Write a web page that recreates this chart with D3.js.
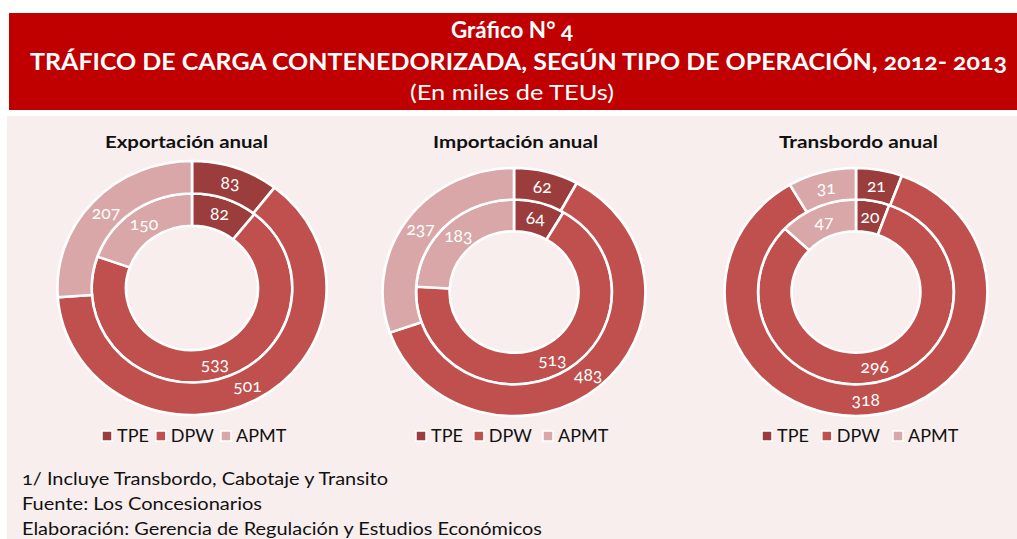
<!DOCTYPE html>
<html>
<head>
<meta charset="utf-8">
<script src="https://cdn.jsdelivr.net/npm/d3@7"></script>
<style>
  body { margin: 0; background: #fff; }
  svg text { font-family: Lato, "Open Sans", sans-serif; font-variant-numeric: oldstyle-nums; }
</style>
</head>
<body>
<svg id="chart"></svg>
<script>
// datos (miles de TEUs)
var operaciones = ["Exportación anual", "Importación anual", "Transbordo anual"];
var concesionarios = ["TPE", "DPW", "APMT"];
var anillo2012 = [[82, 533, 150], [64, 513, 183], [20, 296, 47]];   // anillo interior
var anillo2013 = [[83, 501, 207], [62, 483, 237], [21, 318, 31]];   // anillo exterior
var notas = [
  "1/ Incluye Transbordo, Cabotaje y Transito",
  "Fuente: Los Concesionarios",
  "Elaboración: Gerencia de Regulación y Estudios Económicos"
];

var width = 1017, height = 539;
var svg = d3.select("#chart").attr("width", width).attr("height", height);

var color = d3.scaleOrdinal()
  .domain(concesionarios)
  .range(["#9c3d3d", "#c0504d", "#d9a7a7"]);

// title bar
svg.append("rect").attr("x", 9).attr("y", 13).attr("width", width - 9).attr("height", 97)
  .attr("fill", "#c00000");
svg.append("rect").attr("x", 7).attr("y", 116).attr("width", width - 7).attr("height", height - 116)
  .attr("fill", "#f9eeee");

var titles = [
  {t: "Gráfico N° 4", y: 38, size: 22, w: "bold", len: 122},
  {t: "TRÁFICO DE CARGA CONTENEDORIZADA, SEGÚN TIPO DE OPERACIÓN, 2012- 2013", y: 70, size: 22, w: "bold", len: 977},
  {t: "(En miles de TEUs)", y: 100, size: 21, w: "normal", len: 204}
];
svg.selectAll(".title").data(titles).enter().append("text")
  .attr("class", "title")
  .attr("x", d => d.len === 977 ? 30 : 512 - d.len / 2)
  .attr("y", d => d.y)
  .attr("fill", "#fff")
  .attr("font-size", d => d.size)
  .attr("font-weight", d => d.w)
  .attr("textLength", d => d.len)
  .attr("lengthAdjust", "spacingAndGlyphs")
  .text(d => d.t);

// one donut per operation
var layout = [
  {cx: 192, cy: 288, r: 127, tx: 105, tw: 163, lx: 102, gap: 7},
  {cx: 514, cy: 292, r: 124, tx: 433, tw: 165, lx: 416, gap: 11},
  {cx: 856, cy: 292, r: 124, tx: 779, tw: 159, lx: 762, gap: 13}
];
var sx = 1.06;  // the reference is slightly stretched horizontally

var pie = d3.pie().sort(null).value(d => d.v);

operaciones.forEach(function(op, i) {
  var L = layout[i];
  var hole = L.r * 0.49, mid = L.r * 0.745;
  var g = svg.append("g").attr("transform", `translate(${L.cx},${L.cy})`);
  var rings = g.append("g").attr("transform", `scale(${sx},1)`);

  var sets = [
    {vals: anillo2012[i], r0: hole, r1: mid},
    {vals: anillo2013[i], r0: mid, r1: L.r}
  ];
  sets.forEach(function(s) {
    var arcs = pie(s.vals.map((v, k) => ({k: concesionarios[k], v: v})));
    var arc = d3.arc().innerRadius(s.r0).outerRadius(s.r1);
    rings.selectAll(null).data(arcs).enter().append("path")
      .attr("d", arc)
      .attr("fill", d => color(d.data.k))
      .attr("stroke", "#fff")
      .attr("stroke-width", 2.5);
    g.selectAll(null).data(arcs).enter().append("text")
      .attr("x", d => arc.centroid(d)[0] * sx)
      .attr("y", d => arc.centroid(d)[1])
      .attr("dy", "0.35em")
      .attr("text-anchor", "middle")
      .attr("fill", "#fff")
      .attr("font-size", 17.5)
      .text(d => d.data.v);
  });

  svg.append("text")
    .attr("x", L.tx).attr("y", 148)
    .attr("font-size", 17.5).attr("font-weight", "bold").attr("fill", "#111")
    .attr("textLength", L.tw).attr("lengthAdjust", "spacingAndGlyphs")
    .text(op);

  // legend
  var lg = svg.append("g").attr("transform", `translate(${L.lx},442)`);
  var x = 0;
  concesionarios.forEach(function(c) {
    lg.append("rect").attr("x", x).attr("y", -11).attr("width", 10).attr("height", 10)
      .attr("fill", color(c)).attr("stroke", "#fff").attr("stroke-width", 1.5);
    var t = lg.append("text").attr("x", x + 15).attr("y", 0)
      .attr("font-size", 18).attr("fill", "#111").text(c);
    x += 15 + t.node().getComputedTextLength() + L.gap;
  });
});

// footnotes
var notaLen = [366, 240, 520];
svg.selectAll(".nota").data(notas).enter().append("text")
  .attr("class", "nota")
  .attr("x", 22)
  .attr("y", (d, i) => 485 + i * 25)
  .attr("font-size", 18)
  .attr("fill", "#111")
  .attr("textLength", (d, i) => notaLen[i])
  .attr("lengthAdjust", "spacingAndGlyphs")
  .text(d => d);
</script>
</body>
</html>
